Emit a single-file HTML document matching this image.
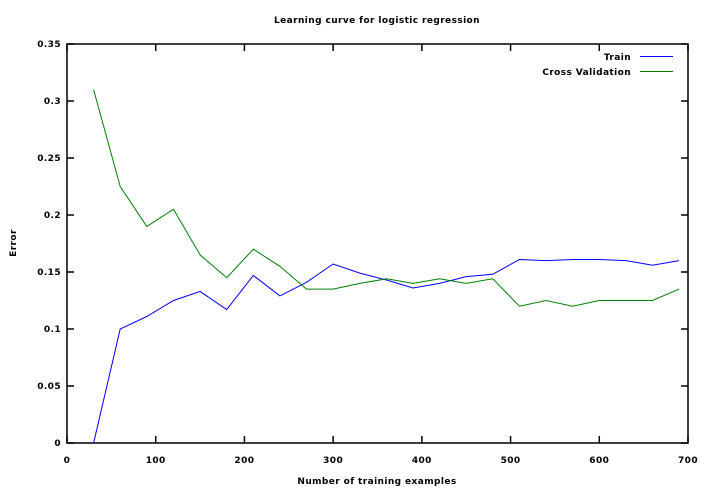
<!DOCTYPE html>
<html><head><meta charset="utf-8"><style>
html,body{margin:0;padding:0;background:#fff;}
svg{display:block;font-family:"DejaVu Sans","Liberation Sans",sans-serif;font-size:9px;font-weight:bold;letter-spacing:0.4px;}
</style></head><body>
<svg id="chart" width="706" height="488"></svg>
<script>
const xValues=[30,60,90,120,150,180,210,240,270,300,330,360,390,420,450,480,510,540,570,600,630,660,690];
const trainError=[0,0.100,0.111,0.125,0.133,0.117,0.147,0.129,0.141,0.157,0.149,0.143,0.136,0.140,0.146,0.148,0.161,0.160,0.161,0.161,0.160,0.156,0.160];
const cvError=[0.310,0.225,0.190,0.205,0.165,0.145,0.170,0.155,0.135,0.135,0.140,0.144,0.140,0.144,0.140,0.144,0.120,0.125,0.120,0.125,0.125,0.125,0.135];
const xTicks=[0,100,200,300,400,500,600,700];
const yTicks=[0,0.05,0.1,0.15,0.2,0.25,0.3,0.35];
const yTickLabels=["0","0.05","0.1","0.15","0.2","0.25","0.3","0.35"];
const L=67,R=688,T=44,B=443;
const sx=v=>L+(v/700)*(R-L);
const sy=v=>B-(v/0.35)*(B-T);
const NS="http://www.w3.org/2000/svg";
const svg=document.getElementById('chart');
function mk(tag,attrs,parent){const e=document.createElementNS(NS,tag);for(const k in attrs)e.setAttribute(k,attrs[k]);(parent||svg).appendChild(e);return e;}
let e;
e=mk('text',{x:377,y:23,'text-anchor':'middle'});e.textContent='Learning curve for logistic regression';


e=mk('rect',{x:L,y:T,width:R-L,height:B-T,fill:'none',stroke:'#000','stroke-width':1.5});


yTicks.forEach((t,i)=>{const y=sy(t);
 mk('line',{x1:L,x2:L+7,y1:y,y2:y,stroke:'#000','stroke-width':1.5});mk('line',{x1:R-7,x2:R,y1:y,y2:y,stroke:'#000','stroke-width':1.5});
 const tx=mk('text',{x:L-6,y:y+3,'text-anchor':'end'});tx.textContent=yTickLabels[i];
 
 });
xTicks.forEach(t=>{const x=sx(t);
 mk('line',{x1:x,x2:x,y1:B,y2:B-7,stroke:'#000','stroke-width':1.5});mk('line',{x1:x,x2:x,y1:T,y2:T+7,stroke:'#000','stroke-width':1.5});
 const tx=mk('text',{x:x,y:463,'text-anchor':'middle'});tx.textContent=t;
 
 });
e=mk('text',{x:377,y:484,'text-anchor':'middle'});e.textContent='Number of training examples';


e=mk('text',{x:16,y:243,'text-anchor':'middle',transform:'rotate(-90 16 243)'});e.textContent='Error';


function series(vals,color,name){const pts=vals.map((v,i)=>sx(xValues[i]).toFixed(1)+','+sy(v).toFixed(1)).join(' ');
 const p=mk('polyline',{points:pts,fill:'none',stroke:color,'stroke-width':1});
 
 }
series(trainError,'#0000ff','train-line');
series(cvError,'#008000','cross-validation-line');
e=mk('text',{x:631,y:60,'text-anchor':'end'});e.textContent='Train';


mk('line',{x1:640,x2:673,y1:56.5,y2:56.5,stroke:'#0000ff'});
e=mk('text',{x:631,y:75,'text-anchor':'end'});e.textContent='Cross Validation';


mk('line',{x1:640,x2:673,y1:71.5,y2:71.5,stroke:'#008000'});
</script>
</body></html>
